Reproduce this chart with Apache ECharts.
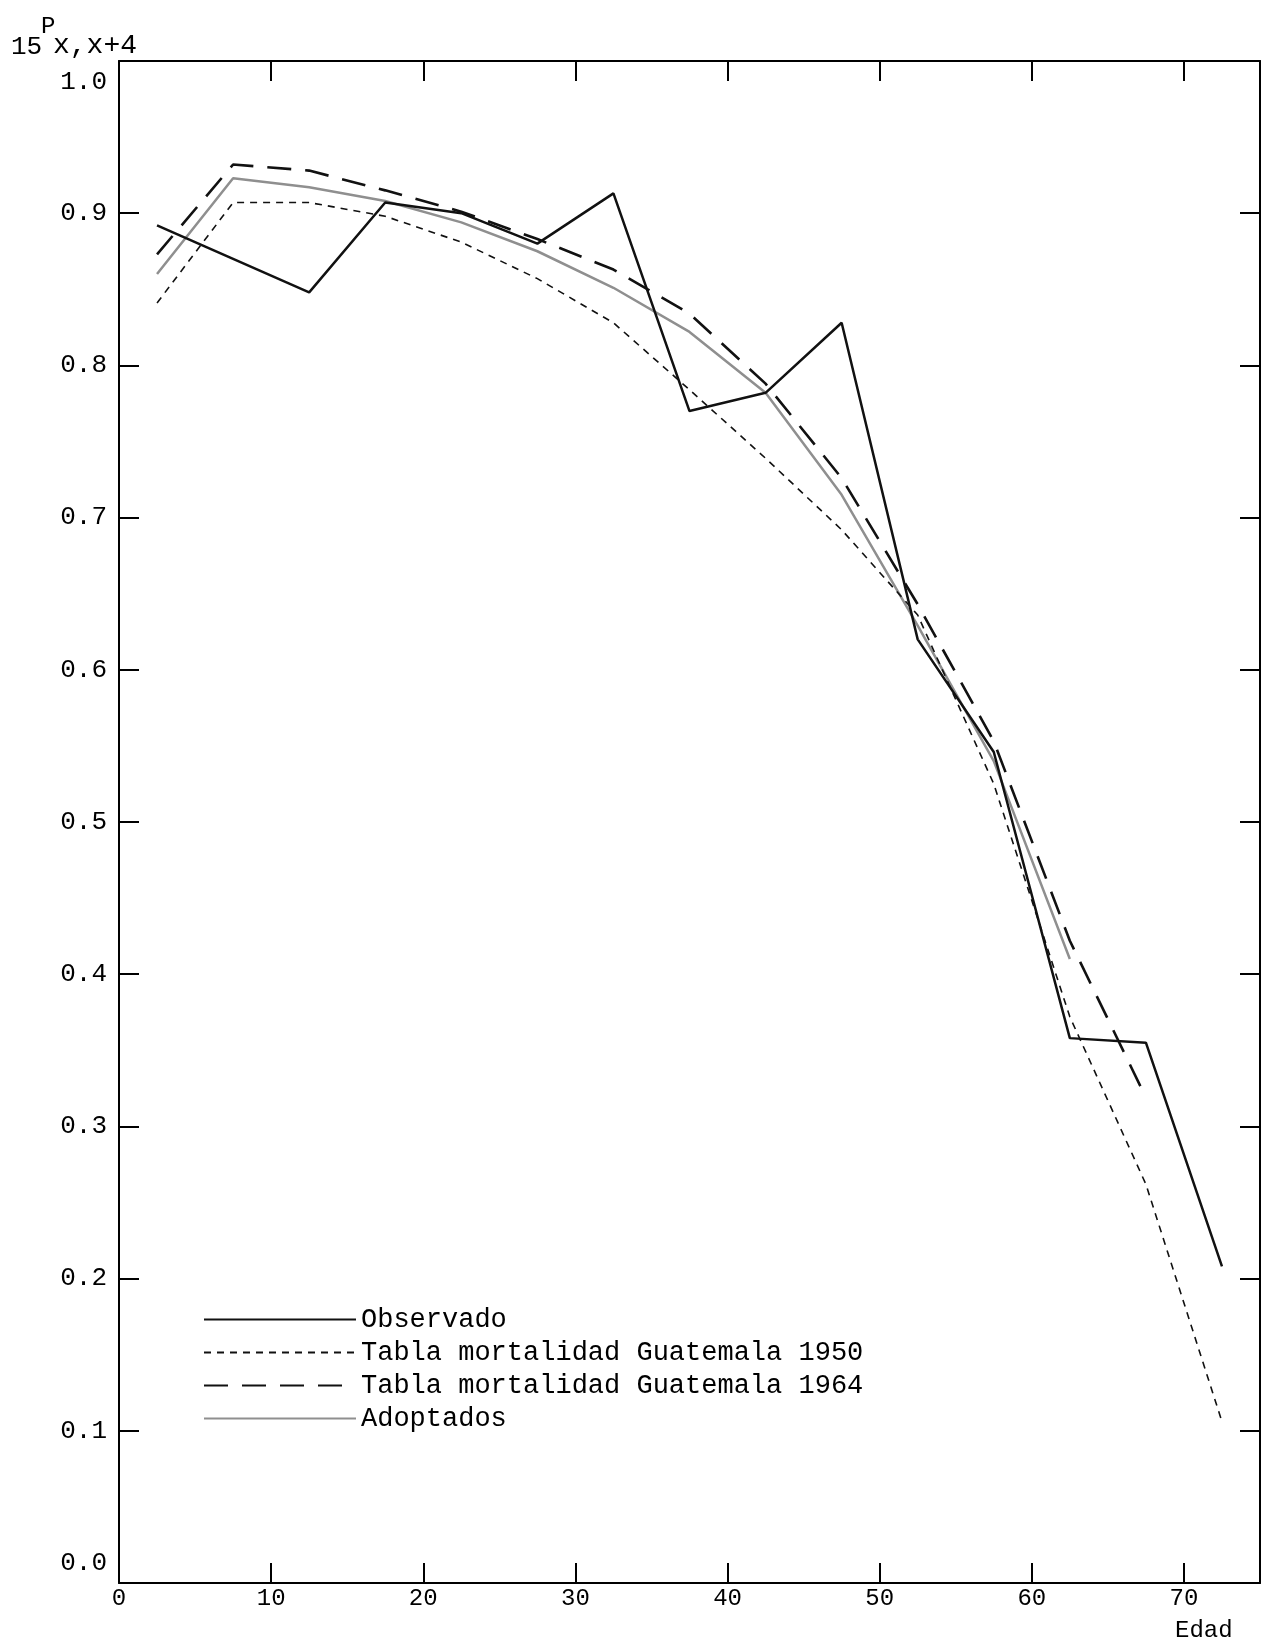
<!DOCTYPE html>
<html>
<head>
<meta charset="utf-8">
<title>15Px,x+4</title>
<script src="https://cdn.jsdelivr.net/npm/echarts@6/dist/echarts.min.js"></script>
<style>
  html, body { margin: 0; padding: 0; background: #fff; }
  #chart { width: 1265px; height: 1645px; }
</style>
</head>
<body>
<div id="chart"></div>
<script>
  // edades (punto medio de cada grupo quinquenal)
  var ages = [2.5, 7.5, 12.5, 17.5, 22.5, 27.5, 32.5, 37.5, 42.5, 47.5, 52.5, 57.5, 62.5, 67.5, 72.5]
  var observado = [0.892, 0.870, 0.848, 0.907, 0.900, 0.880, 0.913, 0.770, 0.782, 0.828, 0.620, 0.546, 0.358, 0.355, 0.208]
  var guate1950 = [0.841, 0.907, 0.907, 0.898, 0.881, 0.857, 0.828, 0.784, 0.739, 0.692, 0.636, 0.525, 0.372, 0.262, 0.106]
  var guate1964 = [0.873, 0.932, 0.928, 0.915, 0.901, 0.883, 0.863, 0.834, 0.788, 0.726, 0.643, 0.553, 0.422, 0.319, null]
  var adoptados = [0.860, 0.923, 0.917, 0.908, 0.894, 0.875, 0.851, 0.822, 0.782, 0.715, 0.629, 0.540, 0.410, null, null]
  var seriesNames = ['Observado', 'Tabla mortalidad Guatemala 1950', 'Tabla mortalidad Guatemala 1964', 'Adoptados']
  var xTicks = [0, 10, 20, 30, 40, 50, 60, 70]

  var font = '"Liberation Mono", "DejaVu Sans Mono", monospace'

  function pairs(vals) {
    var out = []
    for (var i = 0; i < ages.length; i++) {
      if (vals[i] != null) out.push([ages[i], vals[i]])
    }
    return out
  }

  var chart = echarts.init(document.getElementById('chart'))

  var tick = { show: true, inside: true, length: 20, lineStyle: { color: '#000', width: 2 } }
  var line = { show: true, onZero: false, lineStyle: { color: '#000', width: 2 } }

  chart.setOption({
    animation: false,
    backgroundColor: '#fff',
    title: [
      { text: '15', left: 6, top: 29, textStyle: { fontFamily: font, fontSize: 26, fontWeight: 'normal', color: '#000' } },
      { text: 'P', left: 36, top: 10, textStyle: { fontFamily: font, fontSize: 24, fontWeight: 'normal', color: '#000' } },
      { text: 'x,x+4', left: 48, top: 27, textStyle: { fontFamily: font, fontSize: 28, fontWeight: 'normal', color: '#000' } },
      { text: 'Edad', left: 1170, top: 1614, textStyle: { fontFamily: font, fontSize: 24, fontWeight: 'normal', color: '#000' } }
    ],
    grid: { left: 119, right: 5, top: 61, bottom: 62 },
    legend: {
      orient: 'vertical',
      left: 203,
      top: 1306,
      padding: 0,
      itemWidth: 152,
      itemHeight: 14,
      itemGap: 6,
      data: seriesNames,
      itemStyle: { opacity: 0 },
      textStyle: { fontFamily: font, fontSize: 27, lineHeight: 27, color: '#000' }
    },
    xAxis: [
      {
        type: 'value', min: 0, max: 75, interval: 10,
        axisLine: line, axisTick: tick, splitLine: { show: false },
        axisLabel: {
          margin: 4, showMaxLabel: false,
          fontFamily: font, fontSize: 24, color: '#000',
          formatter: function (v) { return xTicks.indexOf(v) >= 0 ? String(v) : '' }
        }
      },
      {
        type: 'value', position: 'top', min: 0, max: 75, interval: 10,
        axisLine: line, axisTick: tick, splitLine: { show: false }, axisLabel: { show: false }
      }
    ],
    yAxis: [
      {
        type: 'value', min: 0, max: 1, interval: 0.1,
        axisLine: line, axisTick: tick, splitLine: { show: false },
        axisLabel: {
          margin: 12, fontFamily: font, fontSize: 26, color: '#000',
          formatter: function (v) {
            if (v >= 1) return '{t|1.0}'
            if (v <= 0) return '{b|0.0}'
            return v.toFixed(1)
          },
          rich: {
            t: { fontFamily: font, fontSize: 26, color: '#000', padding: [42, 0, 0, 0] },
            b: { fontFamily: font, fontSize: 26, color: '#000', padding: [0, 0, 40, 0] }
          }
        }
      },
      {
        type: 'value', position: 'right', min: 0, max: 1, interval: 0.1,
        axisLine: line, axisTick: tick, splitLine: { show: false }, axisLabel: { show: false }
      }
    ],
    series: [
      {
        name: seriesNames[3], type: 'line', data: pairs(adoptados), symbol: 'none', z: 1,
        itemStyle: { color: '#8f8f8f' },
        lineStyle: { color: '#8f8f8f', width: 2.5 }
      },
      {
        name: seriesNames[0], type: 'line', data: pairs(observado), symbol: 'none', z: 3,
        itemStyle: { color: '#111' },
        lineStyle: { color: '#111', width: 2.5 }
      },
      {
        name: seriesNames[1], type: 'line', data: pairs(guate1950), symbol: 'none', z: 2,
        itemStyle: { color: '#111' },
        lineStyle: { color: '#111', width: 1.6, type: [7, 6] }
      },
      {
        name: seriesNames[2], type: 'line', data: pairs(guate1964), symbol: 'none', z: 2,
        itemStyle: { color: '#111' },
        lineStyle: { color: '#111', width: 2.6, type: [24, 14] }
      }
    ]
  })
</script>
</body>
</html>
